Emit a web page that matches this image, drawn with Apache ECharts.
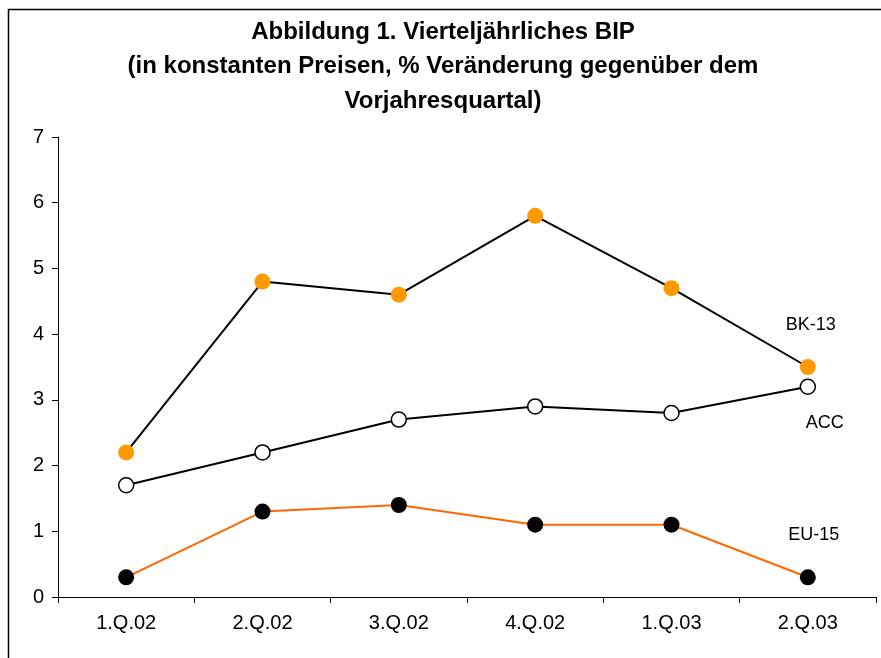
<!DOCTYPE html>
<html><head><meta charset="utf-8">
<script src="https://cdn.jsdelivr.net/npm/echarts@6/dist/echarts.min.js"></script>
<style>html,body{margin:0;padding:0;background:#fff}#c{width:881px;height:658px}</style>
</head><body><div id="c"></div>
<script>
const categories = ['1.Q.02','2.Q.02','3.Q.02','4.Q.02','1.Q.03','2.Q.03'];
const bk13 = [2.2, 4.8, 4.6, 5.8, 4.7, 3.5];
const acc = [1.7, 2.2, 2.7, 2.9, 2.8, 3.2];
const eu15 = [0.3, 1.3, 1.4, 1.1, 1.1, 0.3];
const yTicks = [0,1,2,3,4,5,6,7];
const titleText = 'Abbildung 1. Vierteljährliches BIP\n(in konstanten Preisen, % Veränderung gegenüber dem\nVorjahresquartal)';
const font = '"Liberation Sans", Arial, sans-serif';

function withEndLabel(arr, name, offset) {
  return arr.map((v, i) => i === arr.length - 1 ? {
    value: v,
    label: { show: true, formatter: name, position: 'inside', offset: offset,
      color: '#000', fontSize: 18, fontFamily: font }
  } : v);
}

const chart = echarts.init(document.getElementById('c'), null, {renderer: 'canvas'});
chart.setOption({
  animation: false,
  backgroundColor: '#fff',
  title: {
    text: titleText, left: 438, top: 10, textAlign: 'center',
    textStyle: { fontSize: 24, fontWeight: 'bold', fontFamily: font, color: '#000', lineHeight: 34.5 }
  },
  graphic: [{
    type: 'polyline', shape: { points: [[8.5, 700], [8.5, 9.5], [900, 9.5]] },
    style: { stroke: '#000', lineWidth: 1.5, fill: null }, silent: true
  }],
  grid: { left: 58, right: 5, top: 137, bottom: 61, containLabel: false },
  xAxis: {
    type: 'category', data: categories, boundaryGap: true,
    axisLine: { lineStyle: { color: '#000', width: 1 } },
    axisTick: { show: true, length: 6, lineStyle: { color: '#000' }, alignWithLabel: false },
    axisLabel: { color: '#000', fontSize: 20, fontFamily: font, margin: 16 },
    splitLine: { show: false }
  },
  yAxis: {
    type: 'value', min: 0, max: 7, interval: 1,
    axisLine: { show: true, lineStyle: { color: '#000', width: 1 } },
    axisTick: { show: true, length: 6, inside: false, lineStyle: { color: '#000' } },
    axisLabel: { color: '#000', fontSize: 20, fontFamily: font, margin: 14,
      formatter: v => yTicks.includes(v) ? String(v) : '' },
    splitLine: { show: false }
  },
  series: [
    { name: 'BK-13', type: 'line', data: withEndLabel(bk13, 'BK-13', [3, -42]),
      symbol: 'circle', symbolSize: 16,
      lineStyle: { color: '#000', width: 2 },
      itemStyle: { color: '#FF9900', borderWidth: 0 }, z: 3 },
    { name: 'ACC', type: 'line', data: withEndLabel(acc, 'ACC', [17, 36]),
      symbol: 'circle', symbolSize: 15,
      lineStyle: { color: '#000', width: 2 },
      itemStyle: { color: '#fff', borderColor: '#000', borderWidth: 1.5 }, z: 3 },
    { name: 'EU-15', type: 'line', data: withEndLabel(eu15, 'EU-15', [6, -42]),
      symbol: 'circle', symbolSize: 16,
      lineStyle: { color: '#FF6600', width: 2 },
      itemStyle: { color: '#000', borderWidth: 0 }, z: 3 }
  ]
});
</script></body></html>
